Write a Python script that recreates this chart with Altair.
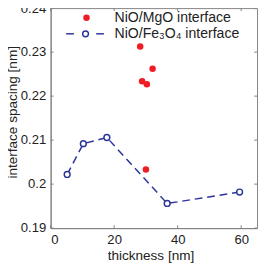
import altair as alt
import pandas as pd

# ---- data ----
mgo_thickness = [28.2, 28.8, 30.3, 32.1, 30.0]
mgo_spacing = [0.2313, 0.2234, 0.2227, 0.2262, 0.2033]
fe_thickness = [5.2, 10.3, 17.7, 36.7, 59.5]
fe_spacing = [0.2022, 0.2092, 0.2106, 0.1956, 0.1982]
x_ticks = [0, 20, 40, 60]
y_ticks = [0.19, 0.20, 0.21, 0.22, 0.23, 0.24]
legend_labels = ["NiO/MgO interface", "NiO/Fe\u2083O\u2084 interface"]

RED = "#ee1c25"
BLUE = "#2b3399"
GRAY = "#808080"
FONT = "Liberation Sans"
W, H = 213, 227

mgo = pd.DataFrame({"t": mgo_thickness, "s": mgo_spacing})
fe = pd.DataFrame({"t": fe_thickness, "s": fe_spacing})
xt = pd.DataFrame({"v": x_ticks})
yt = pd.DataFrame({"v": y_ticks})

xs = alt.Scale(domain=[0, 65], nice=False, zero=False)
ys = alt.Scale(domain=[0.19, 0.24], nice=False, zero=False)

xaxis = alt.Axis(values=x_ticks, title="thickness [nm]", grid=False, tickSize=0,
                 labelPadding=5, titlePadding=3, titleX=103, domainColor=GRAY)
yaxis = alt.Axis(values=y_ticks, title="interface spacing [nm]", grid=False, tickSize=0,
                 format=".2~f", labelPadding=5, titlePadding=1, titleY=107,
                 domainColor=GRAY)

line = alt.Chart(fe).mark_line(color=BLUE, strokeDash=[8, 5], strokeWidth=1.5).encode(
    x=alt.X("t:Q", scale=xs, axis=xaxis),
    y=alt.Y("s:Q", scale=ys, axis=yaxis),
)
fe_pts = alt.Chart(fe).mark_point(shape="circle", filled=False, fill="white", fillOpacity=1,
                                  color=BLUE, size=36, strokeWidth=1.5).encode(
    x=alt.X("t:Q", scale=xs), y=alt.Y("s:Q", scale=ys))
mgo_pts = alt.Chart(mgo).mark_point(shape="circle", filled=True, color=RED, size=45,
                                    opacity=1).encode(
    x=alt.X("t:Q", scale=xs), y=alt.Y("s:Q", scale=ys))

# inward ticks on all four sides
tb = alt.Chart(xt).mark_rule(color=GRAY, strokeWidth=1).encode(
    x=alt.X("v:Q", scale=xs), y=alt.value(H), y2=alt.value(H - 3))
tt = alt.Chart(xt).mark_rule(color=GRAY, strokeWidth=1).encode(
    x=alt.X("v:Q", scale=xs), y=alt.value(0), y2=alt.value(3))
tl = alt.Chart(yt).mark_rule(color=GRAY, strokeWidth=1).encode(
    y=alt.Y("v:Q", scale=ys), x=alt.value(0), x2=alt.value(3))
tr = alt.Chart(yt).mark_rule(color=GRAY, strokeWidth=1).encode(
    y=alt.Y("v:Q", scale=ys), x=alt.value(W), x2=alt.value(W - 3))

# legend
lg = pd.DataFrame({"label": legend_labels})
leg_text1 = alt.Chart(lg).transform_filter(alt.datum.label == legend_labels[0]).mark_text(
    align="left", baseline="middle", font=FONT, fontSize=14.5, color="#222").encode(
    text="label:N", x=alt.value(66), y=alt.value(10))
leg_text2 = alt.Chart(lg).transform_filter(alt.datum.label == legend_labels[1]).mark_text(
    align="left", baseline="middle", font=FONT, fontSize=14.5, color="#222").encode(
    text="label:N", x=alt.value(66), y=alt.value(26.5))
leg_dot = alt.Chart(lg).transform_filter(alt.datum.label == legend_labels[0]).mark_point(
    shape="circle", filled=True, color=RED, size=45, opacity=1).encode(
    x=alt.value(37), y=alt.value(10))
leg_l1 = alt.Chart(lg).transform_filter(alt.datum.label == legend_labels[1]).mark_rule(
    color=BLUE, strokeWidth=1.5).encode(x=alt.value(16), x2=alt.value(24), y=alt.value(26.5))
leg_l2 = alt.Chart(lg).transform_filter(alt.datum.label == legend_labels[1]).mark_rule(
    color=BLUE, strokeWidth=1.5).encode(x=alt.value(47), x2=alt.value(55), y=alt.value(26.5))
leg_circ = alt.Chart(lg).transform_filter(alt.datum.label == legend_labels[1]).mark_point(
    shape="circle", filled=False, fill="white", fillOpacity=1, color=BLUE, size=36,
    strokeWidth=1.5).encode(x=alt.value(36), y=alt.value(26.5))

chart = alt.layer(line, fe_pts, mgo_pts, tb, tt, tl, tr,
                  leg_text1, leg_text2, leg_dot, leg_l1, leg_l2, leg_circ).properties(
    width=W, height=H,
    autosize=alt.AutoSizeParams(type="none"),
    padding={"left": 44, "top": -4, "right": 2, "bottom": 37},
).configure_view(stroke=GRAY, strokeWidth=1).configure_axis(
    labelFont=FONT, titleFont=FONT, labelFontSize=13.5, titleFontSize=14,
    labelColor="#222", titleColor="#222", titleFontWeight="normal", domainWidth=1,
)

chart.save("out.html", embed_options={"renderer": "svg", "actions": False})
